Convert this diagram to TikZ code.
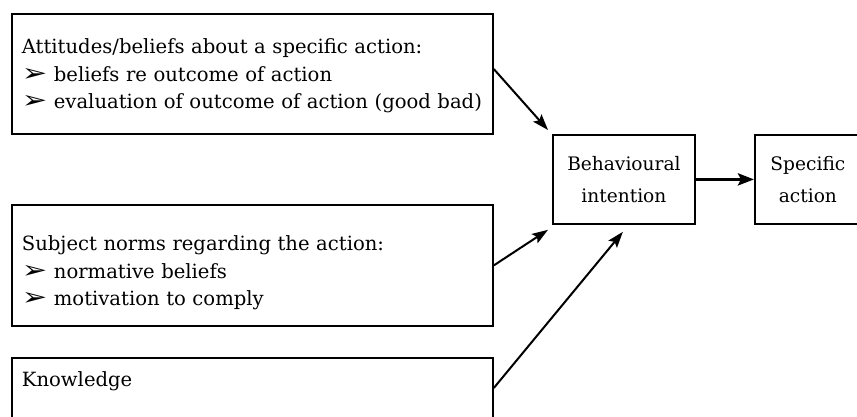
\documentclass[tikz,border=0pt]{standalone}
\usepackage{fontspec}
\usepackage{graphicx}
\setmainfont{DejaVu Serif}
\newfontfamily\symf{DejaVu Sans}
\usetikzlibrary{arrows.meta,calc}
\newcommand{\pointer}{\scalebox{1.55}[1.25]{\symf ➢}\ }
\begin{document}
\begin{tikzpicture}[x=1pt,y=1pt,
  box/.style={draw, line width=1.8pt, rectangle, anchor=north west},
  leftbox/.style={box, text width=461pt, inner xsep=10pt, inner ysep=0pt,
                  minimum width=481pt, align=left, font=\fontsize{19.6}{27.5}\selectfont},
  rightbox/.style={box, inner xsep=1pt, inner ysep=0pt, align=center,
                   font=\fontsize{18.6}{32}\selectfont, minimum height=89pt},
  conn/.style={line width=2pt, -{Stealth[length=16pt,width=11pt,inset=3pt]}},
  thickconn/.style={line width=3.4pt, -{Stealth[length=16pt,width=12pt,inset=3pt]}},
]
\useasboundingbox (0,0) rectangle (857,-416);
\node[leftbox, minimum height=120pt] (att) at (11,-13)
  {\rule{0pt}{19pt}Attitudes/beliefs about a specific action:\\
   \pointer beliefs re outcome of action\\
   \pointer evaluation of outcome of action (good bad)};
\node[leftbox, minimum height=121pt] (sub) at (11,-204)
  {\rule{0pt}{30pt}Subject norms regarding the action:\\
   \pointer normative beliefs\\
   \pointer motivation to comply};
\node[box, text width=461pt, inner xsep=10pt, inner ysep=16pt, text height=13pt,
      text depth=45pt, font=\fontsize{19.6}{27.5}\selectfont] (kno) at (11,-357) {Knowledge};
\node[rightbox, text width=140pt] (beh) at (552,-134) {Behavioural\\intention};
\node[rightbox, text width=104pt] (spe) at (754,-134) {Specific\\action};
\draw[conn] ($(att.north east)!0.46!(att.south east)$) -- ($(beh.north west)+(-4,4)$);
\draw[conn] (sub.east) -- ($(beh.south west)+(-4,-5)$);
\draw[conn] ($(kno.north east)+(0,-31)$) -- ($(beh.south)+(-1,-7)$);
\draw[thickconn] (beh.east) -- (spe.west);
\end{tikzpicture}
\end{document}
